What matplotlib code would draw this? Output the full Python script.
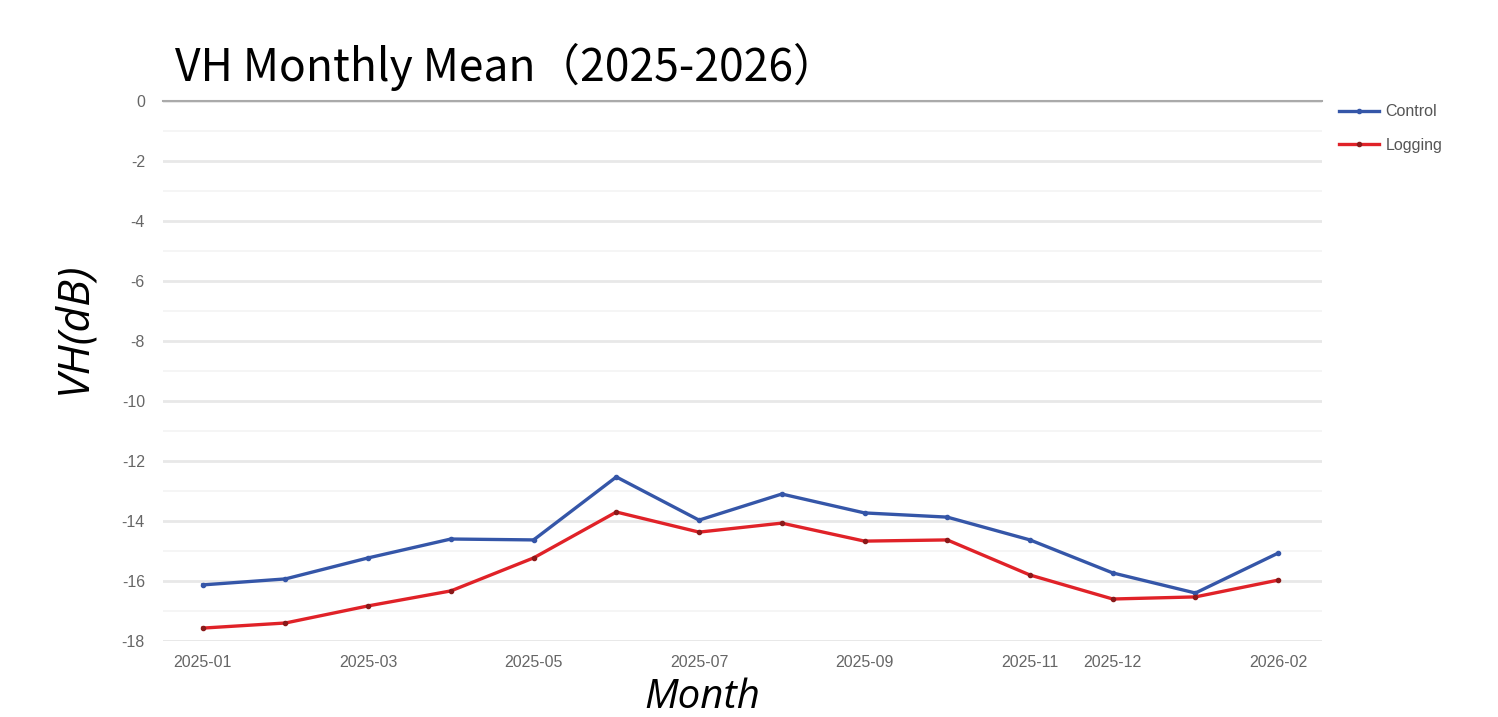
import matplotlib
matplotlib.use('Agg')
import matplotlib.pyplot as plt
import numpy as np

# ---- data ----
months = ['2025-01', '2025-02', '2025-03', '2025-04', '2025-05', '2025-06', '2025-07',
          '2025-08', '2025-09', '2025-10', '2025-11', '2025-12', '2026-01', '2026-02']
control = [-16.13, -15.93, -15.23, -14.60, -14.63, -12.53, -13.97,
           -13.10, -13.73, -13.87, -14.63, -15.73, -16.40, -15.07]
logging = [-17.57, -17.40, -16.83, -16.33, -15.23, -13.70, -14.37,
           -14.07, -14.67, -14.63, -15.80, -16.60, -16.53, -15.97]
shown_ticks = ['2025-01', '2025-03', '2025-05', '2025-07', '2025-09',
               '2025-11', '2025-12', '2026-02']
y_ticks = [0, -2, -4, -6, -8, -10, -12, -14, -16, -18]

plt.rcParams['font.family'] = ['Liberation Sans', 'DejaVu Sans']
plt.rcParams['axes.unicode_minus'] = False

fig = plt.figure(figsize=(14.98, 7.17), dpi=100)
ax = fig.add_axes([0.1088, 0.106, 0.7737, 0.753])

x = np.arange(len(months))
ax.plot(x, control, color='#3556a8', linewidth=2.4, marker='o', markersize=3,
        label='Control', zorder=3)
ax.plot(x, logging, color='#e02228', linewidth=2.4, marker='o', markersize=3,
        markerfacecolor='#8a1a1a', markeredgecolor='#8a1a1a', label='Logging', zorder=3)

ax.set_xlim(-0.48, 13.53)
ax.set_ylim(-18, 0)
ax.set_yticks(y_ticks)
ax.set_yticks(np.arange(-17, 0, 2), minor=True)
ax.set_xticks([months.index(m) for m in shown_ticks])
ax.set_xticklabels(shown_ticks)
ax.tick_params(axis='both', length=0, labelsize=11.5, labelcolor='#666666')
ax.tick_params(axis='y', pad=13)
ax.tick_params(axis='x', pad=10)
ax.tick_params(axis='y', which='minor', length=0)
ax.grid(axis='y', which='major', color='#e8e8e8', linewidth=2)
ax.grid(axis='y', which='minor', color='#f4f4f4', linewidth=1.2)
for s in ['left', 'right', 'bottom']:
    ax.spines[s].set_visible(False)
ax.spines['top'].set_color('#aaaaaa')
ax.spines['top'].set_linewidth(1.5)
ax.axhline(-18, color='#e8e8e8', linewidth=2, zorder=0)

ax.set_ylabel('VH(dB)', fontsize=32, style='italic', family=['Open Sans', 'DejaVu Sans'],
              va='center')
ax.yaxis.set_label_coords(-0.0768, 0.581)
ax.set_xlabel('Month', fontsize=29, style='italic', family=['Open Sans', 'DejaVu Sans'],
              va='baseline')
ax.xaxis.set_label_coords(0.465, -0.125)

fig.text(0.117, 0.873, 'VH Monthly Mean（2025-2026）', fontsize=32, ha='left', va='bottom',
         family=['Noto Sans CJK SC', 'DejaVu Sans'])

ax.legend(loc='upper left', bbox_to_anchor=(1.005, 1.015), frameon=False, fontsize=11.5,
          handlelength=2.5, handletextpad=0.4, labelcolor='#555555', borderaxespad=0.3,
          labelspacing=1.15)

fig.savefig('out.png', dpi=100)
